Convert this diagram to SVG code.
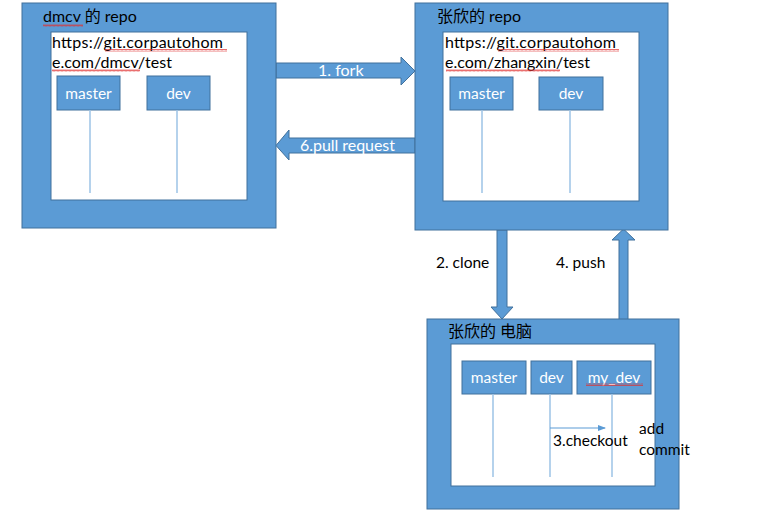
<svg xmlns="http://www.w3.org/2000/svg" width="777" height="517" viewBox="0 0 777 517">
<defs>
<style>
.outer{fill:#5B9BD5;stroke:#41719C;stroke-width:1}
.inner{fill:#fff;stroke:#41719C;stroke-width:1}
.br{fill:#5B9BD5;stroke:#41719C;stroke-width:1}
.tl{stroke:#9DC3E6;stroke-width:1.5;fill:none}
.arr{fill:#5B9BD5;stroke:#41719C;stroke-width:1}
text{font-family:"Lato","Open Sans","Noto Sans CJK SC",sans-serif}
.t{font-size:16px;fill:#000}
.u{font-size:16px;fill:#000}
.w{font-size:15.5px;fill:#fff;text-anchor:middle}
.wl{font-size:16px;fill:#fff}
.k{font-size:15.5px;fill:#000}
</style>
<pattern id="sq" width="4" height="3" patternUnits="userSpaceOnUse">
<polyline points="0,2.5 1,0.5 2,2.5 3,0.5 4,2.5" fill="none" stroke="#E03030" stroke-width="0.7"/>
</pattern>
<marker id="ah" markerWidth="8" markerHeight="8" refX="7" refY="4" orient="auto" markerUnits="userSpaceOnUse">
<path d="M0,1 L8,4 L0,7 Z" fill="#5B9BD5"/>
</marker>
</defs>

<g id="connectors">
<polygon class="arr" points="276,63 401,63 401,57 415,71 401,85 401,78 276,78"/>
<text class="wl" x="318" y="76">1. fork</text>
<polygon class="arr" points="415,138 289,138 289,130 276,145.5 289,160 289,153 415,153"/>
<text class="wl" x="300" y="151" textLength="95">6.pull request</text>
<polygon class="arr" points="497,230 507,230 507,307 513,307 502,319 491,307 497,307"/>
<text class="k" x="436" y="268">2. clone</text>
<polygon class="arr" points="619,320 628,320 628,240 635,240 623.5,229 612,240 619,240"/>
<text class="k" x="556" y="268">4. push</text>
</g>

<g id="dmcv-repo">
<rect class="outer" x="22" y="3" width="254" height="225"/>
<text class="t" x="43" y="22">dmcv 的 repo</text>
<rect x="43" y="24" width="40" height="3" fill="url(#sq)"/>
<rect class="inner" x="51" y="32" width="196" height="168"/>
<text class="u" x="52" y="48" textLength="171">https://git.corpautohom</text>
<text class="u" x="52" y="68" textLength="120">e.com/dmcv/test</text>
<rect x="105" y="49" width="122" height="3" fill="url(#sq)"/>
<rect x="52" y="69" width="88" height="3" fill="url(#sq)"/>
<g id="dmcv-master"><rect class="br" x="57" y="76" width="63" height="34"/><text class="w" x="88.5" y="99">master</text></g>
<g id="dmcv-dev"><rect class="br" x="147" y="76" width="63" height="34"/><text class="w" x="178.5" y="99">dev</text></g>
<line class="tl" x1="90" y1="110" x2="90" y2="193"/>
<line class="tl" x1="177" y1="110" x2="177" y2="193"/>
</g>

<g id="zhangxin-repo">
<rect class="outer" x="415" y="3" width="253" height="227"/>
<text class="t" x="437" y="22">张欣的 repo</text>
<rect class="inner" x="443" y="32" width="196" height="169"/>
<text class="u" x="445" y="48" textLength="171">https://git.corpautohom</text>
<text class="u" x="445" y="68" textLength="145">e.com/zhangxin/test</text>
<rect x="498" y="49" width="121" height="3" fill="url(#sq)"/>
<rect x="446" y="69" width="114" height="3" fill="url(#sq)"/>
<g id="zx-master"><rect class="br" x="450" y="77" width="63" height="33"/><text class="w" x="481.5" y="99">master</text></g>
<g id="zx-dev"><rect class="br" x="539" y="77" width="64" height="33"/><text class="w" x="571" y="99">dev</text></g>
<line class="tl" x1="482" y1="110" x2="482" y2="193"/>
<line class="tl" x1="570" y1="110" x2="570" y2="193"/>
</g>

<g id="zhangxin-pc">
<rect class="outer" x="427" y="319" width="252" height="190"/>
<text class="t" x="448" y="337">张欣的 电脑</text>
<rect class="inner" x="451" y="344" width="204" height="142"/>
<g id="pc-master"><rect class="br" x="462" y="361" width="64" height="33"/><text class="w" x="494" y="383">master</text></g>
<g id="pc-dev"><rect class="br" x="531" y="361" width="41" height="33"/><text class="w" x="551.5" y="383">dev</text></g>
<g id="pc-mydev"><rect class="br" x="577" y="361" width="74" height="33"/><text class="w" x="614" y="383">my_dev</text><rect x="586" y="383" width="57" height="3" fill="url(#sq)"/></g>
<line class="tl" x1="493" y1="394" x2="493" y2="477"/>
<line class="tl" x1="550" y1="394" x2="550" y2="477"/>
<line class="tl" x1="612" y1="394" x2="612" y2="477"/>
<line x1="550" y1="428" x2="605" y2="428" stroke="#5B9BD5" stroke-width="1" marker-end="url(#ah)"/>
<text class="k" x="553" y="446">3.checkout</text>
<text class="k" x="639" y="434">add</text>
<text class="k" x="639" y="455">commit</text>
</g>
</svg>
